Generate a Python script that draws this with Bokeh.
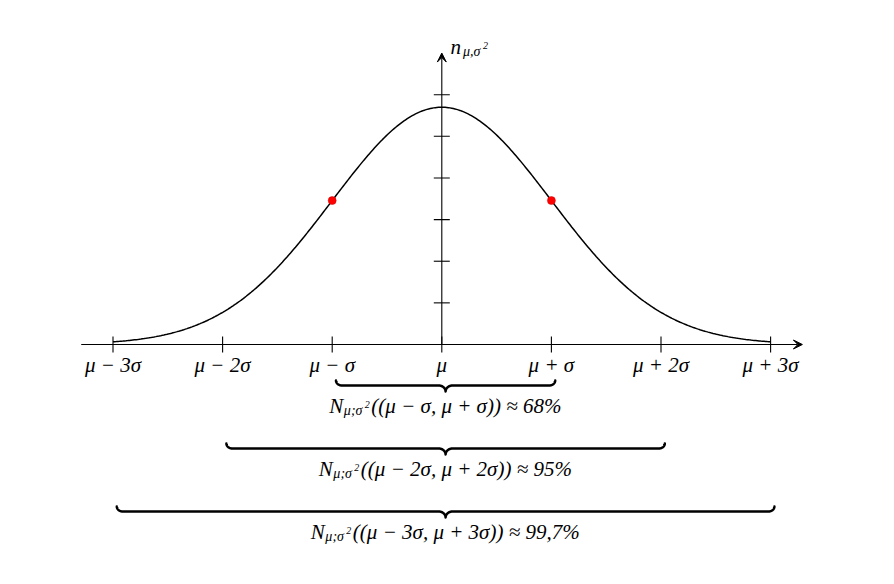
import numpy as np
from bokeh.plotting import figure
from bokeh.models import Arrow, VeeHead
from bokeh.core.properties import value
from bokeh.embed import file_html
from bokeh.resources import INLINE

# ---------------- data ----------------
mu = 0.0
sigma = 1.0
tick_multiples = [-3, -2, -1, 0, 1, 2, 3]
tick_labels = ["μ − 3σ", "μ − 2σ", "μ − σ", "μ", "μ + σ", "μ + 2σ", "μ + 3σ"]
y_ticks = [0.07, 0.14, 0.21, 0.28, 0.35, 0.42]
marked_multiples = [-1, 1]
interval_k = [1, 2, 3]
interval_texts = ["((μ − σ, μ + σ)) ≈ 68%",
                  "((μ − 2σ, μ + 2σ)) ≈ 95%",
                  "((μ − 3σ, μ + 3σ)) ≈ 99,7%"]
curve_span = [-3, 3]
axis_x_extent = 3.29
axis_y_top = 0.49

# ---------------- layout ----------------
W, H = 878, 568
PX_X = 109.6          # pixels per sigma
PX_Y = 594.8          # pixels per density unit
X0P, Y0P = 441.3, 344.0   # screenshot position of the origin
OFF = 0               # observed page offset of the figure
TXT = 6               # text baseline correction (px, upwards)
x_start = -(X0P - OFF) / PX_X
x_end = x_start + W / PX_X
y_end = (Y0P - OFF) / PX_Y
y_start = y_end - H / PX_Y


def dx(px):
    return px / PX_X


def dy(px):
    return px / PX_Y


def Yp(py):
    return (Y0P - py) / PX_Y


def Yt(py):
    return (Y0P - (py - TXT)) / PX_Y


FONT = value("Liberation Serif")
FS = "21px"
FS_SUB = "14px"
FS_SUP = "10px"

p = figure(width=W, height=H, x_range=(x_start, x_end), y_range=(y_start, y_end),
           x_axis_type=None, y_axis_type=None, toolbar_location=None,
           output_backend="svg", min_border=0, outline_line_color=None)
p.background_fill_color = "white"
p.border_fill_color = "white"

# axes with arrows
p.add_layout(Arrow(end=VeeHead(size=9, fill_color="black", line_color="black", line_width=1),
                   x_start=-axis_x_extent, y_start=0, x_end=axis_x_extent, y_end=0,
                   line_color="black", line_width=1.1))
p.add_layout(Arrow(end=VeeHead(size=9, fill_color="black", line_color="black", line_width=1),
                   x_start=mu, y_start=0, x_end=mu, y_end=axis_y_top,
                   line_color="black", line_width=1.1))

# x ticks
xt = [mu + k * sigma for k in tick_multiples]
p.segment(x0=xt, y0=[-dy(8)] * len(xt), x1=xt, y1=[dy(8)] * len(xt),
          line_color="black", line_width=1.1)
# y ticks
p.segment(x0=[mu - dx(8)] * len(y_ticks), y0=y_ticks, x1=[mu + dx(8)] * len(y_ticks), y1=y_ticks,
          line_color="black", line_width=1.1)

# tick labels
p.text(x=xt, y=[Yt(370.5)] * len(xt), text=tick_labels, text_align="center",
       text_baseline="alphabetic", text_font=FONT, text_font_style="italic",
       text_font_size=FS, text_color="black")

# density curve
xs = np.linspace(mu + curve_span[0] * sigma, mu + curve_span[1] * sigma, 401)
ys = np.exp(-(xs - mu) ** 2 / (2 * sigma ** 2)) / (sigma * np.sqrt(2 * np.pi))
p.line(xs, ys, line_color="black", line_width=1.5)

# inflection points
mx = [mu + k * sigma for k in marked_multiples]
my = [np.exp(-(x - mu) ** 2 / (2 * sigma ** 2)) / (sigma * np.sqrt(2 * np.pi)) for x in mx]
p.scatter(mx, my, size=8, fill_color="red", line_color="#d00000", line_width=0.5)


def txt(xpx, py, s, size, align="left"):
    p.text(x=[mu + dx(xpx - X0P)], y=[Yt(py)], text=[s], text_align=align,
           text_baseline="alphabetic", text_font=FONT, text_font_style="italic",
           text_font_size=size, text_color="black")


# y label n_{mu,sigma^2}
txt(450, 52, "n", FS)
txt(462.5, 57, "μ,σ", FS_SUB)
txt(482.5, 51, "2", FS_SUP)


# braces
def brace(a, b, bar_py):
    top = Yp(bar_py - 5)
    bar = Yp(bar_py)
    tip = Yp(bar_py + 6)
    m = (a + b) / 2
    rx_end, rx_mid = dx(6), dx(7)
    t = np.linspace(0, np.pi / 2, 20)
    lx = a + rx_end * (1 - np.cos(t))
    ly = bar + (top - bar) * (1 - np.sin(t))
    mlx = m - rx_mid + rx_mid * np.sin(t)
    mly = bar - (bar - tip) * (1 - np.cos(t))
    mrx = (m + rx_mid - rx_mid * np.sin(t))[::-1]
    mry = mly[::-1]
    rx_ = (b - rx_end * (1 - np.cos(t)))[::-1]
    ry_ = ly[::-1]
    return np.concatenate([lx, mlx, mrx, rx_]), np.concatenate([ly, mly, mry, ry_])


brace_shift = dx(3.8)
bar_pys = [385, 448, 511]
rest_w = [191, 212, 228]
N_W, SUB_W = 14.5, 26
for k, s, bpy, rw in zip(interval_k, interval_texts, bar_pys, rest_w):
    a = mu - k * sigma + brace_shift
    b = mu + k * sigma + brace_shift
    bx, by = brace(a, b, bpy)
    p.line(bx, by, line_color="black", line_width=2.5, line_join="round", line_cap="round")
    cpx = X0P + ((a + b) / 2 - mu) * PX_X
    base = bpy + 26
    total = N_W + SUB_W + 2 + rw
    n_right = cpx - total / 2 + N_W
    txt(n_right, base, "N", FS, align="right")
    txt(n_right + 0.5, base + 4.5, "μ;σ", FS_SUB)
    txt(n_right + 21.5, base - 1.5, "2", FS_SUP)
    txt(n_right + SUB_W + 2, base, s, FS)

open("out.html", "w").write(file_html(p, INLINE))
